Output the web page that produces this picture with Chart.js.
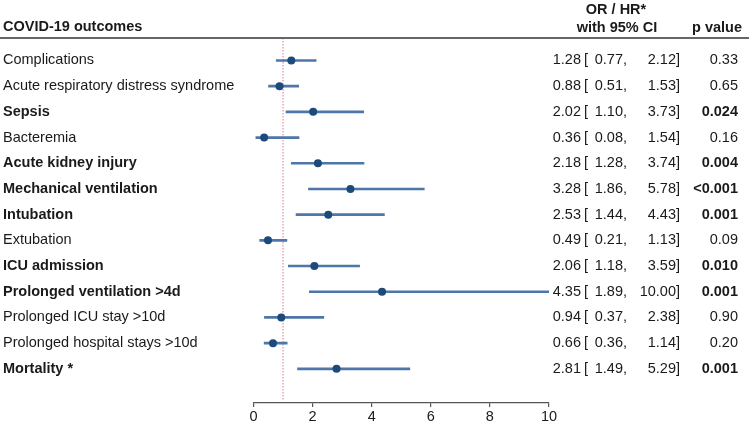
<!DOCTYPE html>
<html>
<head>
<meta charset="utf-8">
<script src="https://cdn.jsdelivr.net/npm/chart.js@4/dist/chart.umd.min.js"></script>
<style>
html,body{margin:0;padding:0;background:#fff;}
#wrap{width:750px;height:424px;position:relative;}
</style>
</head>
<body>
<div id="wrap"><canvas id="c" width="750" height="424"></canvas></div>
<script>
const outcomes = ['Complications','Acute respiratory distress syndrome','Sepsis','Bacteremia','Acute kidney injury','Mechanical ventilation','Intubation','Extubation','ICU admission','Prolonged ventilation >4d','Prolonged ICU stay >10d','Prolonged hospital stays >10d','Mortality *'];
const estimate = [1.28,0.88,2.02,0.36,2.18,3.28,2.53,0.49,2.06,4.35,0.94,0.66,2.81];
const lower    = [0.77,0.51,1.10,0.08,1.28,1.86,1.44,0.21,1.18,1.89,0.37,0.36,1.49];
const upper    = [2.12,1.53,3.73,1.54,3.74,5.78,4.43,1.13,3.59,10.00,2.38,1.14,5.29];
const pValues  = ['0.33','0.65','0.024','0.16','0.004','<0.001','0.001','0.09','0.010','0.001','0.90','0.20','0.001'];
const significant = [false,false,true,false,true,true,true,false,true,true,false,false,true];
const xTicks = [0,2,4,6,8,10];
const refValue = 1;

const FONT = '"Liberation Sans", Arial, sans-serif';
const TXT = '#1a1a1a';

const textPlugin = {
  id: 'forestText',
  afterDraw(chart) {
    const ctx = chart.ctx;
    const ys = chart.scales.y;
    ctx.save();
    ctx.fillStyle = TXT;
    ctx.textBaseline = 'middle';
    ctx.font = 'bold 14.5px ' + FONT;
    ctx.textAlign = 'left';
    ctx.fillText('COVID-19 outcomes', 3, 27);
    ctx.textAlign = 'center';
    ctx.fillText('OR / HR*', 616, 10);
    ctx.fillText('with 95% CI', 617, 28);
    ctx.textAlign = 'right';
    ctx.fillText('p value', 742, 28);
    ctx.strokeStyle = '#666';
    ctx.lineWidth = 2;
    ctx.beginPath();
    ctx.moveTo(0, 38);
    ctx.lineTo(749, 38);
    ctx.stroke();
    outcomes.forEach((_, i) => {
      const y = ys.getPixelForValue(i + 1);
      ctx.font = '14.5px ' + FONT;
      ctx.textAlign = 'right';
      ctx.fillText(estimate[i].toFixed(2), 581, y);
      ctx.textAlign = 'left';
      ctx.fillText('[', 584, y);
      ctx.textAlign = 'right';
      ctx.fillText(lower[i].toFixed(2) + ',', 627, y);
      ctx.fillText(upper[i].toFixed(2) + ']', 680, y);
      ctx.font = (significant[i] ? 'bold ' : '') + '14.5px ' + FONT;
      ctx.fillText(pValues[i], 738, y);
    });
    ctx.restore();
  }
};

new Chart(document.getElementById('c'), {
  type: 'scatter',
  data: {
    datasets: [
      {
        type: 'line',
        data: [{x: refValue, y: 0.125}, {x: refValue, y: 14.2}],
        borderColor: '#e8768c',
        borderWidth: 1,
        borderDash: [1.5, 1.5],
        pointRadius: 0,
        order: 3
      },
      {
        type: 'bar',
        indexAxis: 'y',
        data: outcomes.map((_, i) => ({y: i + 1, x: [lower[i], upper[i]]})),
        backgroundColor: '#4e76a8',
        borderWidth: 0,
        barThickness: 2,
        order: 2
      },
      {
        type: 'scatter',
        data: outcomes.map((_, i) => ({x: estimate[i], y: i + 1})),
        backgroundColor: '#1c4a7b',
        borderColor: '#1c4a7b',
        pointRadius: 4,
        borderWidth: 0,
        order: 1
      }
    ]
  },
  options: {
    responsive: false,
    animation: false,
    devicePixelRatio: 1,
    layout: {padding: {left: 3, right: 201, top: 38, bottom: 0}},
    plugins: {legend: {display: false}, tooltip: {enabled: false}},
    scales: {
      x: {
        type: 'linear',
        min: 0, max: 10,
        offset: false,
        afterBuildTicks: (s) => { s.ticks = xTicks.map(v => ({value: v})); },
        afterFit: (s) => { s.height = 21; },
        grid: {drawOnChartArea: false, offset: false, color: '#555', tickLength: 4, lineWidth: 1.2},
        border: {display: true, color: '#555', width: 1.2},
        ticks: {color: TXT, font: {family: FONT, size: 14.5}, padding: 1, maxRotation: 0}
      },
      y: {
        type: 'linear',
        reverse: true,
        offset: false,
        min: 0.125, max: 14.33,
        afterBuildTicks: (s) => { s.ticks = outcomes.map((_, i) => ({value: i + 1})); },
        afterFit: (s) => { s.width = 250.5; s.paddingTop = 0; s.paddingBottom = 0; },
        grid: {display: false, offset: false},
        border: {display: false},
        ticks: {
          crossAlign: 'far',
          color: TXT,
          callback: (v) => outcomes[v - 1] || '',
          font: (ctx) => ({family: FONT, size: 14.5, weight: (ctx.tick && significant[ctx.tick.value - 1]) ? 'bold' : 'normal'})
        }
      }
    }
  },
  plugins: [textPlugin]
});
</script>
</body>
</html>
